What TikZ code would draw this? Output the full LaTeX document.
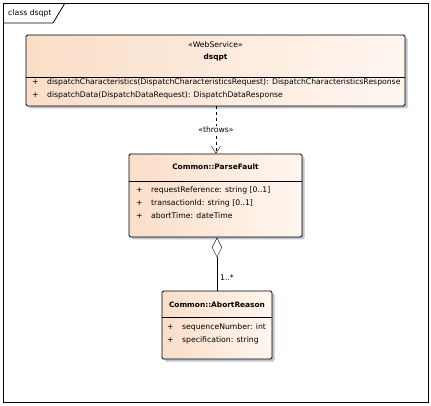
\documentclass[tikz,border=0pt]{standalone}
\usepackage{fontspec}
\setmainfont{DejaVu Sans}
\usetikzlibrary{positioning,arrows.meta,shadows}
\definecolor{classleft}{RGB}{250,222,200}
\definecolor{classright}{RGB}{255,246,240}
\definecolor{shadowgray}{RGB}{190,195,205}

\tikzset{
  classbox/.style={draw, thick, rounded corners=1.5pt, inner sep=0pt,
    left color=classleft, right color=classright,
    drop shadow={shadow xshift=2.5pt, shadow yshift=-2.5pt, fill=shadowgray, opacity=1}},
  classtext/.style={font=\fontsize{7.7}{9}\selectfont, inner sep=0pt},
  classname/.style={classtext, font=\fontsize{7.4}{9}\selectfont\bfseries},
  member/.style={classtext, anchor=west},
}
\newcommand{\vis}{\makebox[15pt][l]{+}}

\begin{document}
\begin{tikzpicture}[x=1pt,y=-1pt]
  \useasboundingbox (0,0) rectangle (431,406);
  % frame
  \draw[thick] (3,3) rectangle (428,402);
  \draw[thick] (3,23) -- (53,23) -- (65,3);
  \node (frametitle) [classtext, anchor=west] at (8,13) {class dsqpt};

  % web service
  \node (ws) [classbox, minimum width=379pt, minimum height=71pt] at (215.5,70.5) {};
  \draw (ws.west |- 0,77) -- (ws.east |- 0,77);
  \node (wsstereo) [classtext] at (215.5,45) {«WebService»};
  \node (wsname) [classname] at (215.5,57) {dsqpt};
  \node (wsop1) [member] at (32,82) {\vis dispatchCharacteristics(DispatchCharacteristicsRequest): DispatchCharacteristicsResponse};
  \node (wsop2) [member] at (32,95) {\vis dispatchData(DispatchDataRequest): DispatchDataResponse};

  % parse fault
  \node (pf) [classbox, minimum width=173pt, minimum height=83pt] at (215.5,195.5) {};
  \draw (pf.west |- 0,181) -- (pf.east |- 0,181);
  \node (pfname) [classname] at (215.5,167) {Common::ParseFault};
  \node (pfattr1) [member] at (136,190) {\vis requestReference: string [0..1]};
  \node (pfattr2) [member] at (136,203) {\vis transactionId: string [0..1]};
  \node (pfattr3) [member] at (136,216) {\vis abortTime: dateTime};

  % abort reason
  \node (ar) [classbox, minimum width=110pt, minimum height=68pt] at (217,325) {};
  \draw (ar.west |- 0,317) -- (ar.east |- 0,317);
  \node (arname) [classname] at (217,305) {Common::AbortReason};
  \node (arattr1) [member] at (167,327) {\vis sequenceNumber: int};
  \node (arattr2) [member] at (167,340) {\vis specification: string};

  % relations
  \draw[dashed, -{Straight Barb[length=7pt,width=9pt]}] (ws.south -| 216,0) -- node[classtext, fill=white, inner sep=1pt]{«throws»} (pf.north -| 216,0);
  \draw[{Diamond[open,length=20pt,width=10pt]}-] (pf.south -| 217,0) -- node[classtext, pos=0.75, right=3pt]{1..*} (ar.north);
\end{tikzpicture}
\end{document}
